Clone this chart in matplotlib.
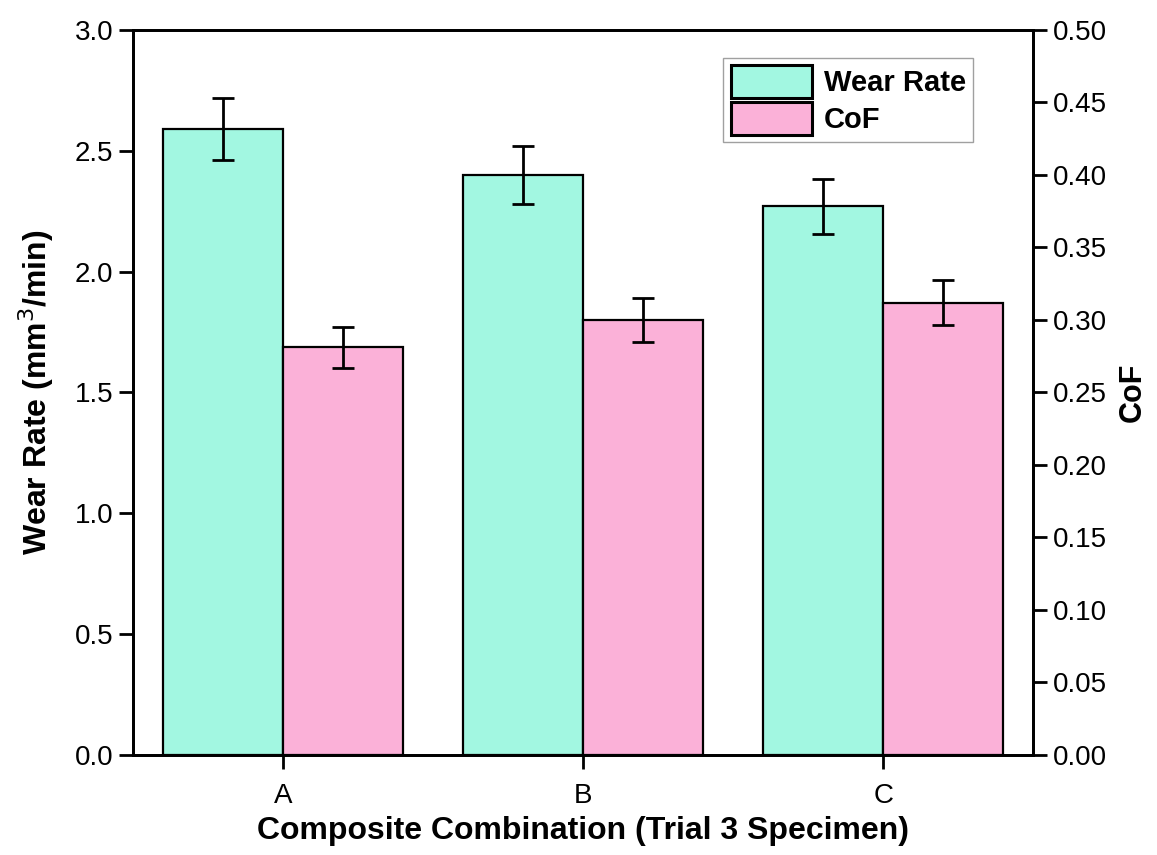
import numpy as np
import matplotlib.pyplot as plt

plt.rcParams['font.family'] = ['Liberation Sans', 'DejaVu Sans']

# Data
categories = ['A', 'B', 'C']
wear_rate = [2.59, 2.40, 2.27]
wear_err = [0.13, 0.12, 0.114]
cof = [0.281, 0.300, 0.312]
cof_err = [0.014, 0.015, 0.0157]

wear_color = '#a2f7e1'
cof_color = '#fbb1d8'

x = np.arange(len(categories))
w = 0.4

fig = plt.figure(figsize=(11.57, 8.55), dpi=100)
ax = fig.add_axes([0.115, 0.117, 0.778, 0.848])
ax2 = ax.twinx()

b1 = ax.bar(x - w/2, wear_rate, w, color=wear_color, edgecolor='black',
            linewidth=1.6, label='Wear Rate', zorder=2)
ax.errorbar(x - w/2, wear_rate, yerr=wear_err, fmt='none', ecolor='black',
            elinewidth=2, capsize=8, capthick=2, zorder=3)
b2 = ax2.bar(x + w/2, cof, w, color=cof_color, edgecolor='black',
             linewidth=1.6, label='CoF', zorder=2)
ax2.errorbar(x + w/2, cof, yerr=cof_err, fmt='none', ecolor='black',
             elinewidth=2, capsize=8, capthick=2, zorder=3)

ax.set_xlim(-0.5, 2.5)
ax.set_ylim(0, 3.0)
ax2.set_ylim(0, 0.5)
ax.set_yticks(np.arange(0, 3.01, 0.5))
ax2.set_yticks(np.arange(0, 0.501, 0.05))
ax.set_xticks(x)
ax.set_xticklabels(categories)
ax.yaxis.set_major_formatter(plt.FormatStrFormatter('%.1f'))
ax2.yaxis.set_major_formatter(plt.FormatStrFormatter('%.2f'))

for a in (ax, ax2):
    for s in a.spines.values():
        s.set_linewidth(2)
    a.tick_params(direction='out', length=10, width=2, labelsize=20, pad=4)
ax.tick_params(axis='x', pad=10)

ax.set_xlabel('Composite Combination (Trial 3 Specimen)', fontsize=23,
              fontweight='bold', labelpad=5)
ax.set_ylabel('Wear Rate (mm$^3$/min)', fontsize=23, fontweight='bold', labelpad=14)
ax2.set_ylabel('CoF', fontsize=22, fontweight='bold', labelpad=8)

leg = ax2.legend([b1, b2], ['Wear Rate', 'CoF'], loc='upper right',
                 bbox_to_anchor=(0.94, 0.97), fontsize=21, frameon=True,
                 fancybox=False, edgecolor='#888888', handlelength=2.8,
                 handleheight=1.35, borderpad=0.25, labelspacing=0.15,
                 handletextpad=0.4, borderaxespad=0.2)
for t in leg.get_texts():
    t.set_fontweight('bold')
for p in leg.get_patches():
    p.set_linewidth(2.2)

fig.savefig('out.png', dpi=100)
